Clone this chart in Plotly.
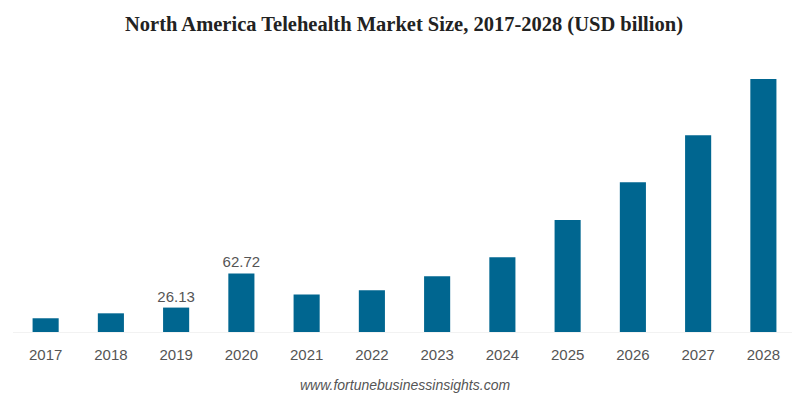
import plotly.graph_objects as go

years = ["2017", "2018", "2019", "2020", "2021", "2022", "2023", "2024", "2025", "2026", "2027", "2028"]
values = [14.7, 20.0, 26.13, 62.72, 40.0, 44.6, 59.6, 80.0, 119.8, 160.2, 210.4, 270.8]
labels = ["", "", "26.13", "62.72", "", "", "", "", "", "", "", ""]

fig = go.Figure()
fig.add_trace(go.Bar(
    x=years, y=values,
    marker=dict(color="#006690", line=dict(width=0)),
    text=labels, textposition="outside", cliponaxis=False, constraintext="none",
    textfont=dict(family="Liberation Sans, Arial, sans-serif", size=15, color="#555555"),
    hoverinfo="x+y",
))

# The page body adds an 8px offset, so the figure is drawn 8px smaller and shifted
fig.update_layout(
    width=792, height=390,
    margin=dict(l=5, r=4, t=52, b=66),
    paper_bgcolor="white", plot_bgcolor="white",
    bargap=0.6,
    showlegend=False,
    title=dict(
        text="<b>North America Telehealth Market Size, 2017-2028 (USD billion)</b>",
        x=0.5, xanchor="center", y=0.959, yanchor="middle",
        font=dict(family="Liberation Serif, Times New Roman, serif", size=20.5, color="#222222"),
    ),
    xaxis=dict(
        showgrid=False, showline=True, linecolor="#f2f2f2", linewidth=1,
        ticks="", tickfont=dict(family="Liberation Sans, Arial, sans-serif", size=15, color="#555555"),
        ticklabelstandoff=9,
    ),
    yaxis=dict(visible=False, range=[0, 291]),
    annotations=[dict(
        text="<i>www.fortunebusinessinsights.com</i>",
        xref="paper", yref="paper", x=0.5, y=0, xshift=0, yshift=-53,
        xanchor="center", yanchor="middle", showarrow=False,
        font=dict(family="Liberation Sans, Arial, sans-serif", size=14, color="#555555"),
    )],
)

fig.write_html("out.html")
